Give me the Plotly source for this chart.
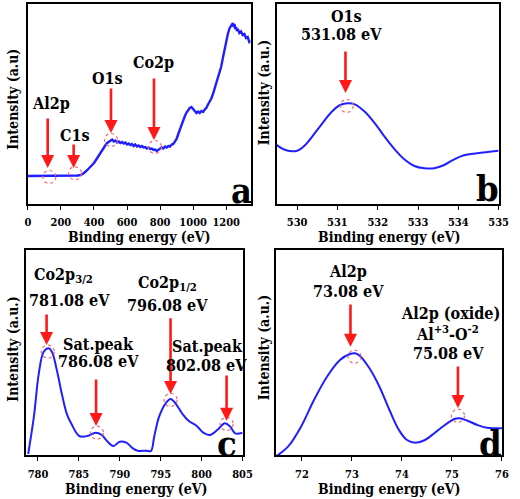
import plotly.graph_objects as go

# ---------------- data ----------------
survey_ev = [0, 50, 100, 150, 200, 250, 300, 320, 340, 360, 380, 400, 420, 440, 460, 470,
             480, 490, 500, 510, 520, 530, 540, 550, 560, 570, 580, 590, 600, 610, 620, 630, 640, 650,
             660, 670, 680, 690, 700, 710, 720, 730, 740, 750, 760, 770, 780, 790, 800, 810, 820, 830,
             840, 850, 860, 870, 880, 890, 900, 910, 920, 930, 940, 950, 960, 970, 980, 990, 1000, 1010,
             1020, 1030, 1040, 1050, 1060, 1070, 1080, 1090, 1100, 1110, 1120, 1130, 1140, 1150, 1160,
             1170, 1180, 1190, 1200, 1210, 1220, 1230, 1240, 1245, 1250, 1255, 1260, 1265, 1270, 1280,
             1290, 1300, 1310, 1320, 1330, 1340, 1348]
survey_int = [28, 28, 28, 28, 28, 28.2, 28.5, 29, 31, 34, 37.5, 41, 46, 51.5, 57, 59,
              61, 62.5, 63, 64.5, 62.5, 63.5, 61.5, 62.5, 61, 62, 60.5, 61.5, 59.5, 60.5, 59, 60, 58, 59.5,
              57.5, 58.5, 57, 58, 56.5, 57, 55.5, 56.5, 55, 55.5, 54, 54.5, 53, 54.5, 55, 56.5, 55.5, 57.5,
              56.5, 58, 57.5, 59.5, 60, 62, 65, 70, 75, 80, 84, 88, 91.5, 94, 96, 97, 95, 92.5,
              91, 92.5, 91, 93, 92, 94.5, 96, 99.5, 102, 105.5, 110, 115.5, 120, 125.5, 131,
              137.5, 146, 155, 163, 170, 175.5, 178, 181, 177, 180, 175, 177, 173, 175, 171,
              172.5, 169, 170, 166, 167, 162, 163]

o1s_ev = [529.44, 529.71, 530.0, 530.2, 530.53, 530.86, 531.07, 531.27, 531.43, 531.68, 531.93, 532.17,
          532.42, 532.66, 532.91, 533.16, 533.4, 533.65, 533.9, 534.14, 534.47, 535.0]
o1s_int = [60.7, 54, 53.3, 59, 75.7, 92.3, 99, 100.7, 99.7, 92.3, 80.7, 67.3,
           54.7, 44.7, 38, 35.7, 35.7, 39, 44.7, 48.7, 50.7, 53.3]

co2p_ev = [778.8, 779.5, 780.1, 780.7, 781.3, 781.7, 782.3, 782.9, 783.5, 784.05, 785.05, 786.04, 787.03,
           787.8, 788.4, 789.2, 790.0, 790.8, 791.6, 792.2, 793.2, 793.8, 794.2, 794.8, 795.6, 796.2,
           796.8, 797.6, 798.4, 799.4, 800.2, 801.0, 801.9, 802.85, 803.5, 804.1, 805.0]
co2p_int = [1, 38.3, 81.7, 103.3, 106.7, 103.3, 85, 61.7, 41.7, 31.7, 19, 19, 22.3,
            20, 14.3, 9, 13.3, 12.3, 6.7, 4.3, 4.3, 4, 18.3, 38.3, 51.7, 56,
            51.7, 41.7, 34.3, 29, 22.3, 20, 25, 31.7, 28.3, 21.7, 22.3]

al2p_ev = [71.49, 71.72, 71.98, 72.24, 72.5, 72.76, 72.96, 73.06, 73.16, 73.35, 73.55, 73.75, 73.94,
           74.1, 74.27, 74.46, 74.66, 74.86, 75.05, 75.15, 75.31, 75.51, 75.7, 76.0]
al2p_int = [-1, 8.3, 28.3, 55, 78.3, 95, 101, 101.7, 99, 86.7, 68.3, 45, 25,
            15, 12.3, 15, 22.3, 30, 36, 36.7, 34.3, 30, 27.3, 26.7]

tick_a = [0, 200, 400, 600, 800, 1000, 1200]
tick_b = [530, 531, 532, 533, 534, 535]
tick_c = [780, 785, 790, 795, 800, 805]
tick_d = [72, 73, 74, 75, 76]

# ---------------- figure ----------------
W, H = 520, 499
SERIF = "DejaVu Serif Condensed, DejaVu Serif"
BLUE = "#2020ff"
RED = "#ff1a1a"
PINK = "#f26a78"


def dx(l, r):
    return [l / W, r / W]


def dy(t, b):
    return [1 - b / H, 1 - t / H]


fig = go.Figure()
panels = [
    ("x", "y", survey_ev, survey_int, "linear", 2.4),
    ("x2", "y2", o1s_ev, o1s_int, "spline", 2),
    ("x3", "y3", co2p_ev, co2p_int, "spline", 2),
    ("x4", "y4", al2p_ev, al2p_int, "spline", 2),
]
for xa, ya, xs, ys, shape, lw in panels:
    fig.add_trace(go.Scatter(x=xs, y=ys, xaxis=xa, yaxis=ya, mode="lines",
                             line=dict(color=BLUE, width=lw, shape=shape), showlegend=False,
                             hoverinfo="skip"))

tickfont = dict(family=SERIF, size=11, color="black", weight="bold")


def xax(domain, rng, ticks, anchor, standoff):
    return dict(domain=domain, range=rng, tickvals=ticks, ticktext=[str(t) for t in ticks],
                showline=True, mirror=True, linecolor="black", linewidth=1.6,
                ticks="outside", ticklen=4, tickwidth=1.2, tickcolor="black",
                tickfont=tickfont, ticklabelstandoff=standoff, tickangle=0,
                showgrid=False, zeroline=False, anchor=anchor)


def yax(domain, rng, anchor):
    return dict(domain=domain, range=rng, showline=True, mirror=True, linecolor="black",
                linewidth=1.6, showticklabels=False, ticks="", showgrid=False, zeroline=False,
                anchor=anchor)


fig.update_layout(
    width=W, height=H, margin=dict(l=0, r=0, t=0, b=0),
    paper_bgcolor="white", plot_bgcolor="white",
    xaxis=xax(dx(25.5, 254), [0, 1348], tick_a, "y", 3),
    yaxis=yax(dy(4, 204), [0, 200], "x"),
    xaxis2=xax(dx(281, 508.3), [529.5, 535], tick_b, "y2", 3),
    yaxis2=yax(dy(4, 204), [0, 200], "x2"),
    xaxis3=xax(dx(23.3, 245.7), [778.5, 805], tick_c, "y3", 4),
    yaxis3=yax(dy(250, 455), [0, 205], "x3"),
    xaxis4=xax(dx(280, 511.7), [71.48, 76], tick_d, "y4", 4),
    yaxis4=yax(dy(250, 455), [0, 205], "x4"),
)

ann = []
shapes = []
lblfont = dict(family=SERIF, size=16, color="black", weight="bold")
letterfont = dict(family=SERIF, size=36, color="black", weight="bold")
titlefont = dict(family=SERIF, size=14, color="black", weight="bold")


def text(xr, yr, x, y, t, font=lblfont):
    ann.append(dict(xref=xr, yref=yr, x=x, y=y, text=t, showarrow=False, font=font,
                    xanchor="center", yanchor="middle"))


def arrow(xr, yr, x, tail, head):
    ann.append(dict(xref=xr, yref=yr, x=x, y=head, axref=xr, ayref=yr, ax=x, ay=tail, text="",
                    showarrow=True, arrowhead=2, arrowsize=1, arrowwidth=2.6, arrowcolor=RED))


def circle(xr, yr, x, y, r=6.5):
    shapes.append(dict(type="circle", xref=xr, yref=yr, xsizemode="pixel", ysizemode="pixel",
                       xanchor=x, yanchor=y, x0=-r, x1=r, y0=-r, y1=r,
                       line=dict(color=PINK, width=1.2, dash="dot")))


# panel a
text("x", "y", 143, 101, "Al2p")
text("x", "y", 285, 69, "C1s")
text("x", "y", 480, 126, "O1s")
text("x", "y", 763, 142, "Co2p")
arrow("x", "y", 120, 87, 36)
arrow("x", "y", 277, 61, 36)
arrow("x", "y", 503, 117, 71)
arrow("x", "y", 763, 127, 64)
circle("x", "y", 130, 27)
circle("x", "y", 285, 30.7)
circle("x", "y", 503, 64)
circle("x", "y", 769, 57)
text("x", "y", 1294, 14, "a", letterfont)

# panel b
text("x2", "y2", 531.23, 188, "O1s")
text("x2", "y2", 531.1, 170, "531.08 eV")
arrow("x2", "y2", 531.2, 154, 111)
circle("x2", "y2", 531.23, 98)
text("x2", "y2", 534.72, 15.7, "b", letterfont)

# panel c
text("x3", "y3", 783.06, 180, "Co2p<sub>3/2</sub>")
text("x3", "y3", 783.8, 155, "781.08 eV")
arrow("x3", "y3", 781.05, 142, 110)
circle("x3", "y3", 781.2, 103.3)
text("x3", "y3", 787.4, 111, "Sat.peak")
text("x3", "y3", 787.4, 94, "786.08 eV")
arrow("x3", "y3", 787.1, 77, 29)
circle("x3", "y3", 787.2, 22.3)
text("x3", "y3", 795.8, 172, "Co2p<sub>1/2</sub>")
text("x3", "y3", 795.8, 150, "796.08 eV")
arrow("x3", "y3", 796.2, 138.3, 61)
circle("x3", "y3", 796.2, 55)
text("x3", "y3", 800.75, 109, "Sat.peak")
text("x3", "y3", 800.55, 90, "802.08 eV")
arrow("x3", "y3", 803.05, 81, 34.3)
circle("x3", "y3", 803.05, 31)
text("x3", "y3", 803.1, 12, "c", letterfont)

# panel d
text("x4", "y4", 72.93, 183.3, "Al2p")
text("x4", "y4", 72.93, 163.3, "73.08 eV")
arrow("x4", "y4", 72.97, 152, 108.3)
circle("x4", "y4", 73.05, 98.3)
text("x4", "y4", 74.97, 141.7, "Al2p (oxide)")
text("x4", "y4", 74.92, 122, "Al<sup>+3</sup>-O<sup>-2</sup>")
text("x4", "y4", 74.93, 102, "75.08 eV")
arrow("x4", "y4", 75.12, 90, 47)
circle("x4", "y4", 75.12, 39.3)
text("x4", "y4", 75.77, 12, "d", letterfont)

# axis titles (paper coords)
def ptext(px, py, t, angle=0):
    ann.append(dict(xref="paper", yref="paper", x=px / W, y=1 - py / H, text=t, showarrow=False,
                    font=titlefont, textangle=angle, xanchor="center", yanchor="middle"))


ptext(140, 237, "Binding energy (eV)")
ptext(396, 237, "Binding energy (eV)")
ptext(137, 489, "Binding energy (eV)")
ptext(396, 489, "Binding energy (eV)")
ptext(10, 99, "Intensity (a.u)", -90)
ptext(268, 93, "Intensity (a.u.)", -90)
ptext(10, 349, "Intensity (a.u.)", -90)
ptext(268, 348, "Intensity (a.u.)", -90)

fig.update_layout(annotations=ann, shapes=shapes)
fig.write_html("out.html", config={"displayModeBar": False},
               post_script="document.body.style.margin='0';document.body.style.padding='0';")
